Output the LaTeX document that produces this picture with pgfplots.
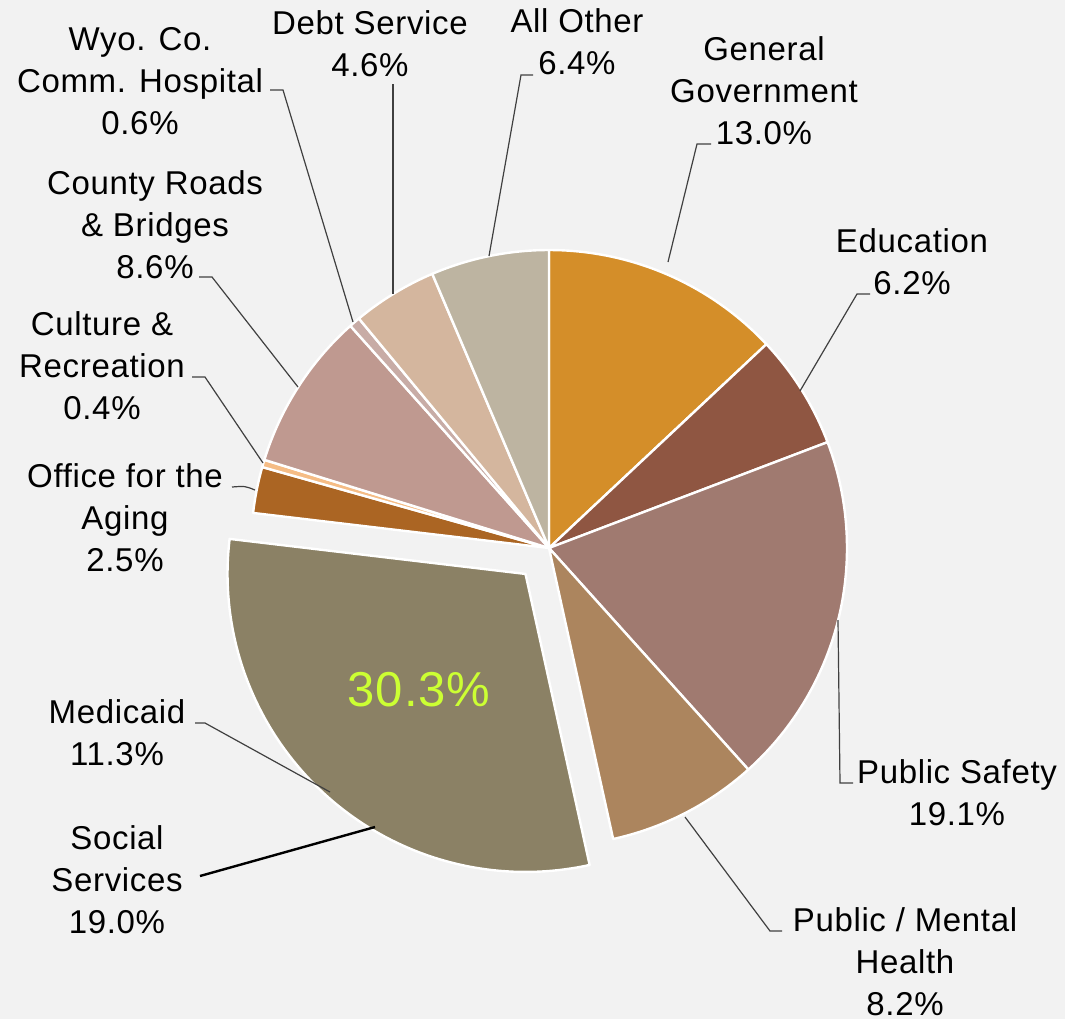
\documentclass[border=0pt]{standalone}
\usepackage{pgfplots}
\pgfplotsset{compat=1.18}
\usepackage{fontspec}
\setmainfont{Liberation Sans}[LetterSpace=2.0]
\definecolor{bg}{HTML}{F2F2F2}
\definecolor{cGen}{HTML}{D48E29}
\definecolor{cEdu}{HTML}{8F5642}
\definecolor{cSafe}{HTML}{A07A70}
\definecolor{cPMH}{HTML}{AC855E}
\definecolor{cSoc}{HTML}{8B8165}
\definecolor{cAge}{HTML}{AB6523}
\definecolor{cCul}{HTML}{F5BC85}
\definecolor{cRoad}{HTML}{BF9990}
\definecolor{cWyo}{HTML}{C8ACA6}
\definecolor{cDebt}{HTML}{D4B69E}
\definecolor{cOth}{HTML}{BDB4A1}
\definecolor{cLbl}{HTML}{CCFF33}
\definecolor{lead}{HTML}{404040}
\tikzset{lbl/.style={align=center, font=\fontsize{16.5}{21}\selectfont, text=black, inner sep=0pt}}
% pie geometry (pixel units of the reference)
\def\pcx{549}\def\pcy{548}\def\pr{298}\def\ptot{99.9}
\def\cum{0}
\pgfmathsetmacro\kdeg{360/\ptot}
\newcommand\slice[3][0]{% [explode px]{value %}{colour}
  \pgfmathsetmacro\aS{90-\kdeg*\cum}%
  \pgfmathsetmacro\aE{90-\kdeg*(\cum+#2)}%
  \pgfmathsetmacro\aM{(\aS+\aE)/2}%
  \pgfmathsetmacro\scx{\pcx+#1*cos(\aM)}%
  \pgfmathsetmacro\scy{\pcy-#1*sin(\aM)}%
  \edef\tmp{\noexpand\addplot[fill=#3,draw=white,line width=1.2pt,line join=round,domain=\aE:\aS,samples=90]
    ({\scx+\pr*cos(x)},{\scy-\pr*sin(x)}) -- (axis cs:\scx,\scy) -- cycle;}%
  \tmp
  \pgfmathsetmacro\newcum{\cum+#2}%
  \xdef\cum{\newcum}%
}
\begin{document}
\begin{tikzpicture}
\fill[bg] (0,0) rectangle (532.5pt,509.5pt);
\begin{axis}[scale only axis, width=532.5pt, height=509.5pt,
  xmin=0, xmax=1065, ymin=0, ymax=1019, y dir=reverse,
  hide axis, clip=false]
% values in percent, clockwise from 12 o'clock
\slice{13.0}{cGen}        % General Government
\slice{6.2}{cEdu}         % Education
\slice{19.1}{cSafe}       % Public Safety
\slice{8.2}{cPMH}         % Public / Mental Health
\slice[35]{19.0+11.3}{cSoc} % Social Services + Medicaid (exploded)
\slice{2.5}{cAge}         % Office for the Aging
\slice{0.4}{cCul}         % Culture & Recreation
\slice{8.6}{cRoad}        % County Roads & Bridges
\slice{0.6}{cWyo}         % Wyo. Co. Comm. Hospital
\slice{4.6}{cDebt}        % Debt Service
\slice{6.4}{cOth}         % All Other
% leader lines
\draw[lead, line width=0.6pt] (axis cs:270,90) -- (axis cs:283,90) -- (axis cs:353,322);
\draw[lead, line width=0.6pt] (axis cs:393,84) -- (axis cs:393,294);
\draw[lead, line width=0.6pt] (axis cs:533,75) -- (axis cs:521,75) -- (axis cs:489,256);
\draw[lead, line width=0.6pt] (axis cs:711,144) -- (axis cs:697,144) -- (axis cs:668,262);
\draw[lead, line width=0.6pt] (axis cs:870,294) -- (axis cs:857,294) -- (axis cs:800,391);
\draw[lead, line width=0.6pt] (axis cs:838,620) -- (axis cs:840,783) -- (axis cs:853,783);
\draw[lead, line width=0.6pt] (axis cs:685,817) -- (axis cs:770,931) -- (axis cs:782,931);
\draw[lead, line width=0.6pt] (axis cs:195,723) -- (axis cs:205,723) -- (axis cs:330,792);
\draw[black, line width=1.2pt] (axis cs:200,876) -- (axis cs:375,827);
\draw[lead, line width=0.6pt] (axis cs:232,487) .. controls (axis cs:245,486) .. (axis cs:255,490);
\draw[lead, line width=0.6pt] (axis cs:192,377) -- (axis cs:205,377) -- (axis cs:263,463);
\draw[lead, line width=0.6pt] (axis cs:199,277) -- (axis cs:212,277) -- (axis cs:298,387);
% labels
\node[lbl] at (axis cs:140,81) {Wyo. Co.\\Comm. Hospital\\0.6\%};
\node[lbl] at (axis cs:370,44) {Debt Service\\4.6\%};
\node[lbl] at (axis cs:577,42) {All Other\\6.4\%};
\node[lbl] at (axis cs:764,91) {General\\Government\\13.0\%};
\node[lbl] at (axis cs:912,262) {Education\\6.2\%};
\node[lbl] at (axis cs:957,793) {Public Safety\\19.1\%};
\node[lbl] at (axis cs:905,962) {Public / Mental\\Health\\8.2\%};
\node[lbl] at (axis cs:117,733) {Medicaid\\11.3\%};
\node[lbl] at (axis cs:117,880) {Social\\Services\\19.0\%};
\node[lbl] at (axis cs:125,518) {Office for the\\Aging\\2.5\%};
\node[lbl] at (axis cs:102,366) {Culture \&\\Recreation\\0.4\%};
\node[lbl] at (axis cs:155,225) {County Roads\\\& Bridges\\8.6\%};
\node[lbl, text=cLbl, font=\fontsize{24.5}{28}\selectfont] at (axis cs:419,690) {30.3\%};
\end{axis}
\end{tikzpicture}
\end{document}
